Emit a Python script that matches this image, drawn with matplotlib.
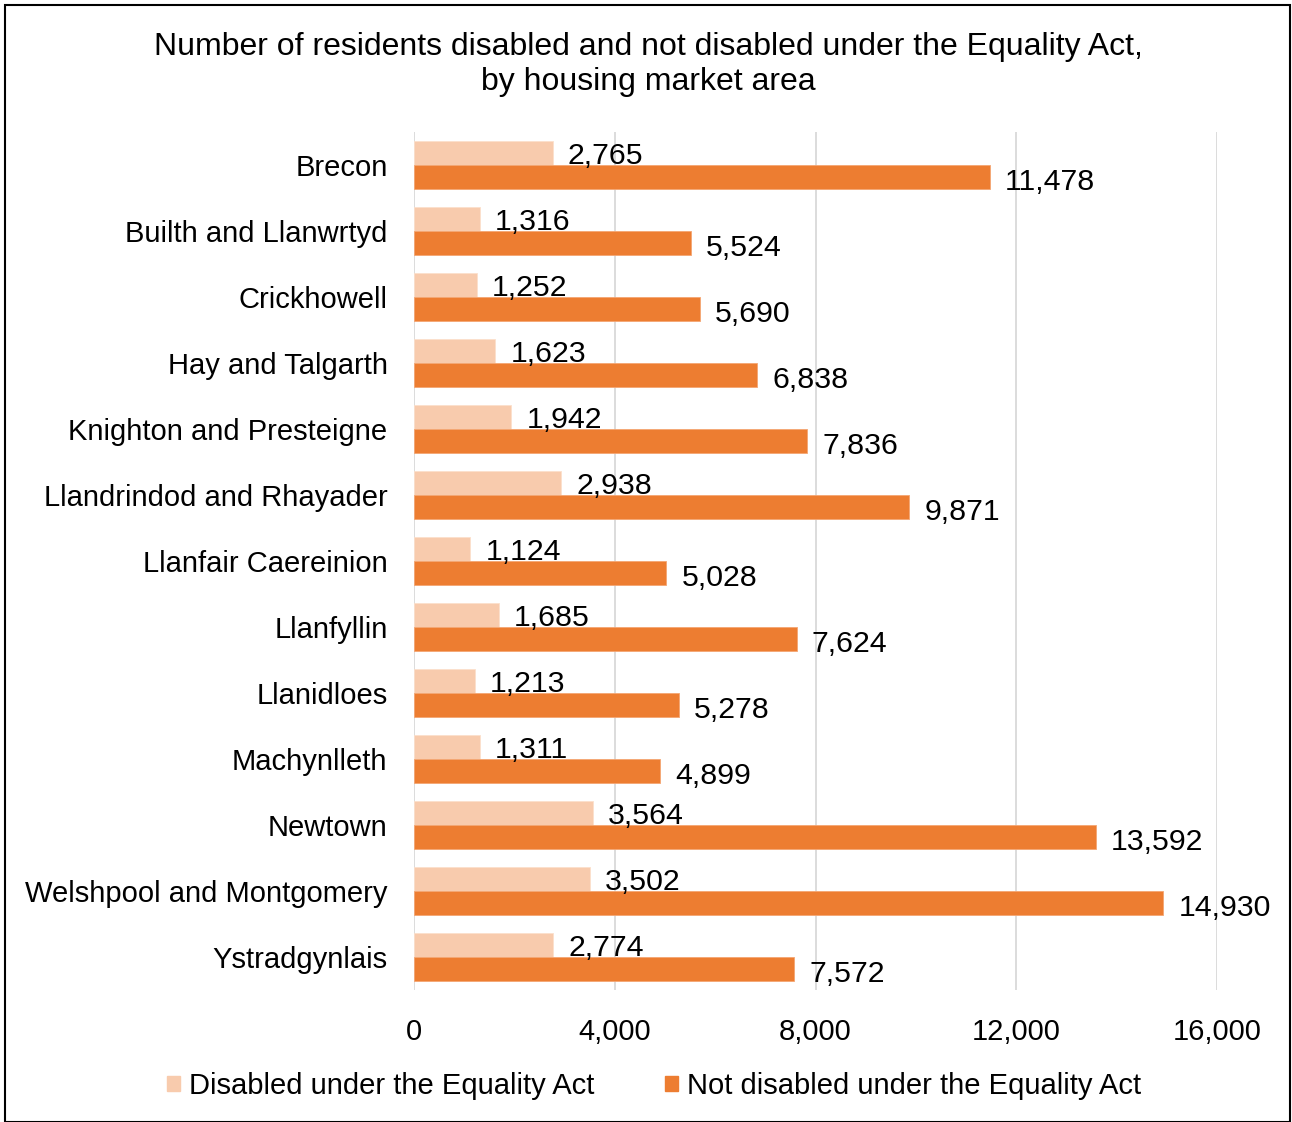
import matplotlib
matplotlib.use("Agg")
import matplotlib.pyplot as plt
from matplotlib.patches import Rectangle
import numpy as np

areas = ["Brecon", "Builth and Llanwrtyd", "Crickhowell", "Hay and Talgarth",
         "Knighton and Presteigne", "Llandrindod and Rhayader", "Llanfair Caereinion",
         "Llanfyllin", "Llanidloes", "Machynlleth", "Newtown",
         "Welshpool and Montgomery", "Ystradgynlais"]
disabled = [2765, 1316, 1252, 1623, 1942, 2938, 1124, 1685, 1213, 1311, 3564, 3502, 2774]
not_disabled = [11478, 5524, 5690, 6838, 7836, 9871, 5028, 7624, 5278, 4899, 13592, 14930, 7572]
xticks = [0, 4000, 8000, 12000, 16000]
series_names = ["Disabled under the Equality Act", "Not disabled under the Equality Act"]

plt.rcParams['font.family'] = ['Liberation Sans', 'DejaVu Sans']
FS = 21
FS_LBL = 21.8
FS_TITLE = 23

fig = plt.figure(figsize=(12.92, 11.22), dpi=100)
ax = fig.add_axes([414/1292, 1-990/1122, (1217-414)/1292, (990-132)/1122])

light = "#F8CBAD"
dark = "#ED7D31"
y = np.arange(len(areas))
h = 0.36
ax.barh(y - h/2, disabled, height=h, color=light, edgecolor="#FBE0CC", linewidth=0.6, zorder=3)
ax.barh(y + h/2, not_disabled, height=h, color=dark, edgecolor="#F4A673", linewidth=0.6, zorder=3)

for yi, v in zip(y, disabled):
    ax.text(v + 300, yi - h/2 + 0.04, f"{v:,}", va="center", ha="left", fontsize=FS_LBL, zorder=4)
for yi, v in zip(y, not_disabled):
    ax.text(v + 300, yi + h/2 + 0.07, f"{v:,}", va="center", ha="left", fontsize=FS_LBL, zorder=4)

ax.set_xlim(0, 16000)
ax.set_ylim(len(areas) - 0.5, -0.5)
ax.set_yticks(y)
ax.set_yticklabels(areas, fontsize=FS)
ax.set_xticks(xticks)
ax.set_xticklabels([f"{t:,}" for t in xticks], fontsize=FS)
ax.tick_params(axis="both", length=0)
ax.tick_params(axis="y", pad=19)
ax.tick_params(axis="x", pad=20)
ax.grid(axis="x", color="#D9D9D9", linewidth=1.3, zorder=0)
for s in ["top", "right", "bottom", "left"]:
    ax.spines[s].set_visible(False)

fig.text(648/1292, 1-64.5/1122, "Number of residents disabled and not disabled under the Equality Act,\nby housing market area",
         ha="center", va="center", fontsize=FS_TITLE, linespacing=1.25)

handles = [Rectangle((0, 0), 1, 1, color=light), Rectangle((0, 0), 1, 1, color=dark)]
fig.legend(handles, series_names, loc="center", bbox_to_anchor=(654/1292, 1-1086/1122),
           ncol=2, frameon=False, fontsize=FS, handlelength=0.45, handleheight=0.45,
           handletextpad=0.3, columnspacing=2.45)

fig.patches.append(Rectangle((5/1292, 0), (1290-5)/1292, (1122-5)/1122, transform=fig.transFigure,
                             fill=False, edgecolor="black", linewidth=1.5))

fig.savefig("out.png", dpi=100)
